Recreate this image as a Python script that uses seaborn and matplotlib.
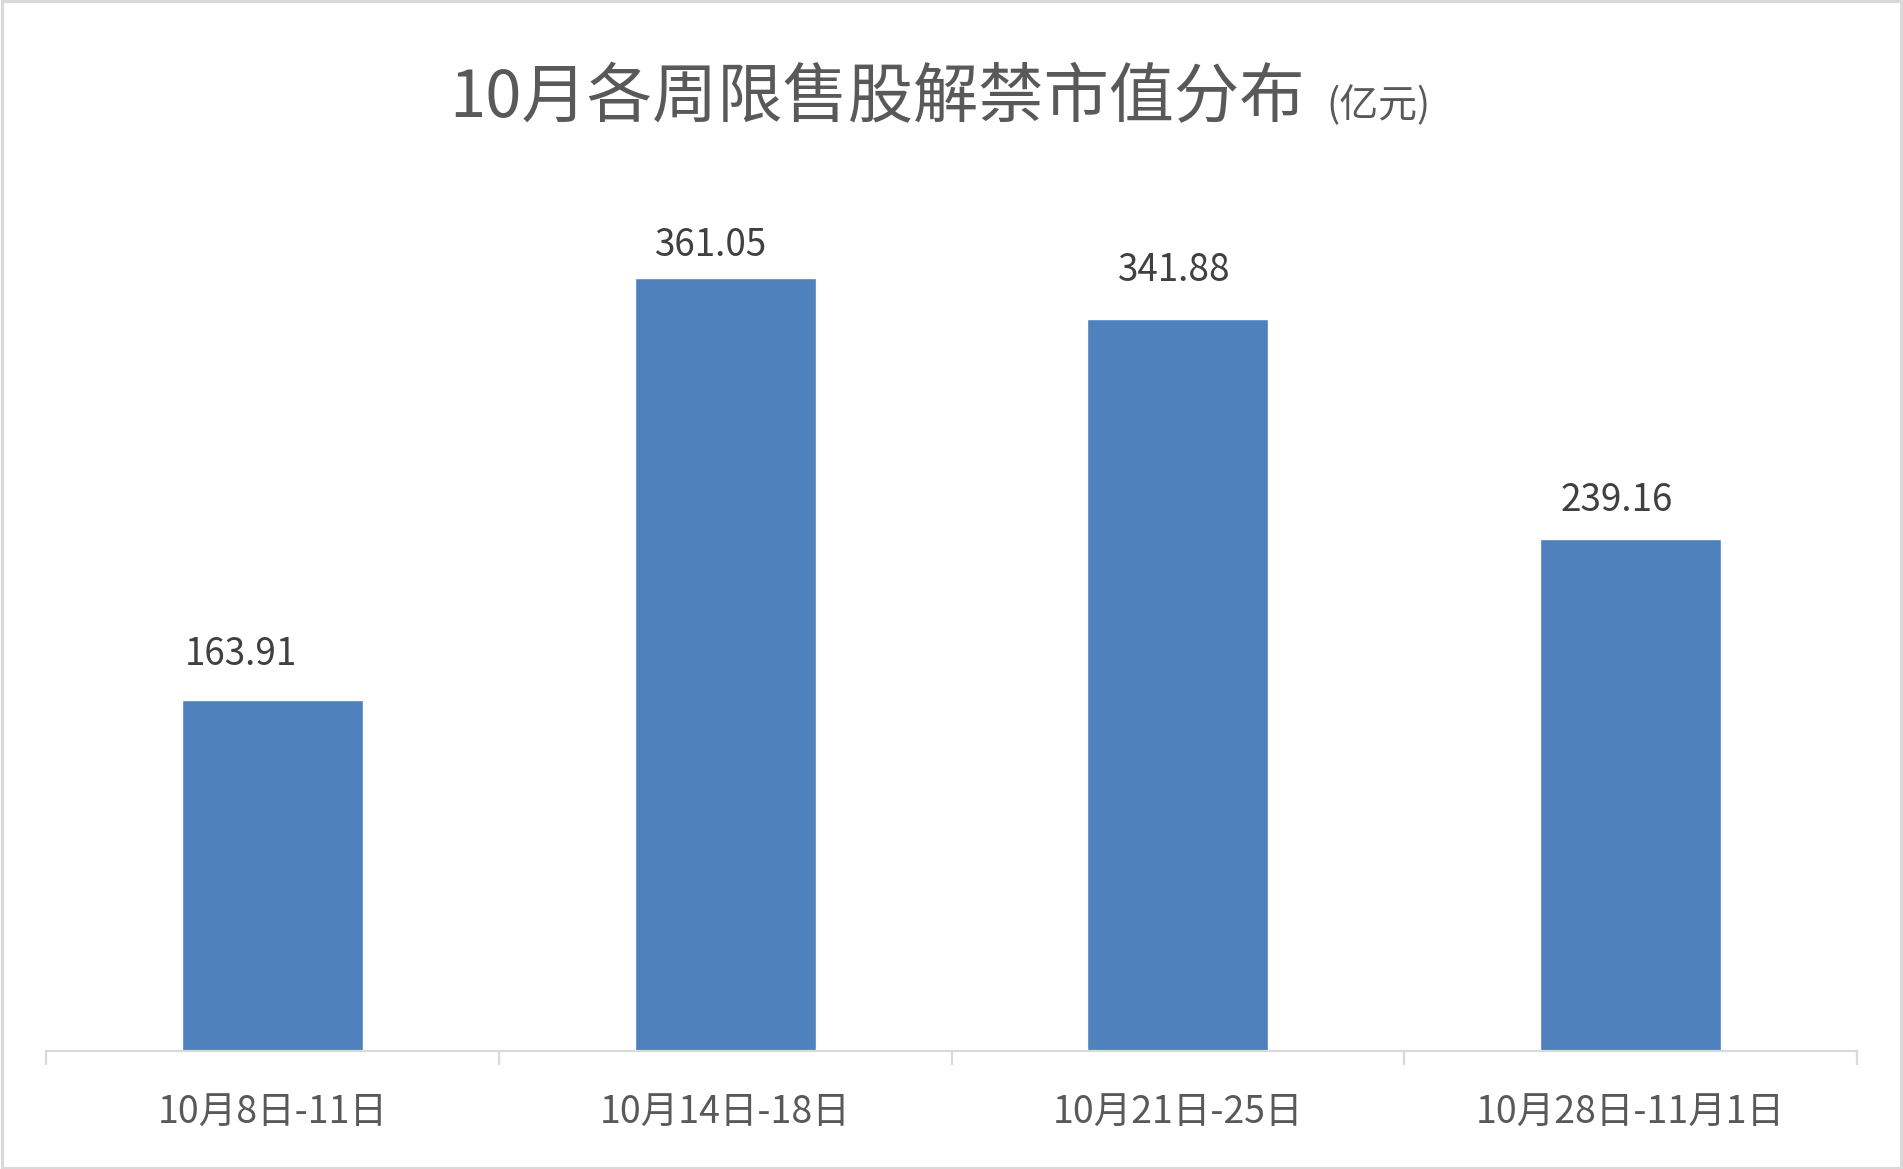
import matplotlib
matplotlib.use("Agg")
import matplotlib.pyplot as plt
import seaborn as sns
import pandas as pd
from matplotlib.patches import Rectangle

# ---- data ----
weeks = ["10月8日-11日", "10月14日-18日", "10月21日-25日", "10月28日-11月1日"]
values = [163.91, 361.05, 341.88, 239.16]
title_main = "10月各周限售股解禁市值分布"
title_unit = "(亿元)"

# ---- style ----
sns.set_theme(style="white")
plt.rcParams["font.family"] = ["Noto Sans CJK SC", "DejaVu Sans"]

BAR = "#4F81BD"
GRID = "#D9D9D9"
TXT = "#595959"
LBL = "#404040"
# label nudges in pixels (dx, gap above bar top)
label_dx = [-32, -14, -4, -14]
label_gap = [35, 22, 38, 28]

W, H = 1903, 1169
fig = plt.figure(figsize=(W / 100, H / 100), dpi=100)
fig.patch.set_facecolor("white")
ax = fig.add_axes([46 / W, 118 / H, (1857 - 46) / W, 856 / H])

df = pd.DataFrame({"week": weeks, "value": values})
sns.barplot(data=df, x="week", y="value", color=BAR, saturation=1,
            width=0.4, ax=ax)

ax.set_xlim(-0.5, len(weeks) - 0.5)
ax.set_ylim(0, 400)
ax.set_xlabel("")
ax.set_ylabel("")
ax.set_yticks([])
for s in ["top", "right", "left"]:
    ax.spines[s].set_visible(False)
ax.spines["bottom"].set_color(GRID)
ax.spines["bottom"].set_linewidth(1.6)

# boundary ticks between categories
ax.set_xticks([i - 0.5 for i in range(len(weeks) + 1)], minor=True)
ax.tick_params(axis="x", which="minor", direction="out", length=10,
               width=1.6, color=GRID, bottom=True)
ax.tick_params(axis="x", which="major", length=0, pad=30.5,
               labelsize=27, labelcolor=TXT)

for i, v in enumerate(values):
    ax.annotate(f"{v:.2f}", xy=(i, v),
                xytext=(label_dx[i] * 0.72, label_gap[i] * 0.72),
                textcoords="offset points", ha="center", va="baseline",
                fontsize=26.5, color=LBL)

# title
base_y = 1 - 117 / H
fig.text(1305 / W, base_y, title_main, ha="right", va="baseline",
         fontsize=47, color=TXT)
fig.text(1326 / W, base_y, title_unit, ha="left", va="baseline",
         fontsize=28, color=TXT)

# figure border
fig.patches.append(Rectangle((0.0008, 0.0012), 0.9984, 0.9976,
                             transform=fig.transFigure, fill=False,
                             edgecolor=GRID, linewidth=2.2))

fig.savefig("out.png", dpi=100, facecolor="white")
